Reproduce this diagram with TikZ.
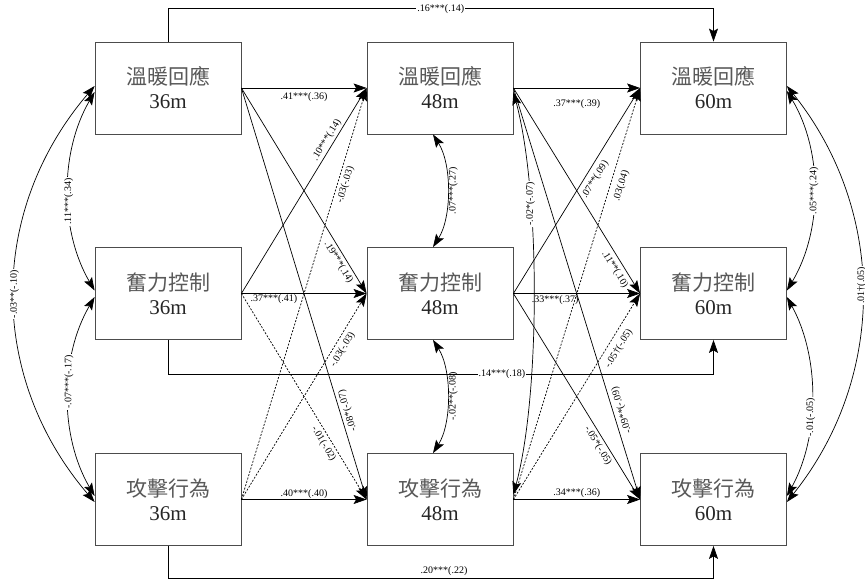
\documentclass[tikz,border=0pt]{standalone}
\usepackage{fontspec}
\setmainfont{Liberation Serif}
\newfontfamily\cjkfont{Noto Sans CJK TC}
\usetikzlibrary{arrows.meta,calc}
\newcommand{\zh}[1]{{\cjkfont\color{black!65}#1}}
\begin{document}
\begin{tikzpicture}[x=1pt,y=-1pt,
  >={Stealth[length=13pt,width=9pt,inset=2.5pt]},
  box/.style={draw=black!70, line width=0.8pt, minimum width=146pt, minimum height=92pt,
    align=center, inner sep=0pt, font=\fontsize{21}{24}\selectfont, text=black!85},
  pathline/.style={->, line width=0.7pt},
  dotpath/.style={pathline, dash pattern=on 2pt off 1.5pt},
  cov/.style={<->, line width=0.7pt},
  lbl/.style={font=\fontsize{10}{12}\selectfont, inner sep=1pt},
  lblw/.style={lbl, fill=white}]
\useasboundingbox (0,0) rectangle (865,580);
\fill[white] (0,0) rectangle (865,580);

% boxes
\node[box] (c1r1) at (168,88) {\zh{溫暖回應}\\36m};
\node[box] (c2r1) at (440,88) {\zh{溫暖回應}\\48m};
\node[box] (c3r1) at (713.5,88) {\zh{溫暖回應}\\60m};
\node[box] (c1r2) at (168,293.5) {\zh{奮力控制}\\36m};
\node[box] (c2r2) at (440,293.5) {\zh{奮力控制}\\48m};
\node[box] (c3r2) at (713.5,293.5) {\zh{奮力控制}\\60m};
\node[box] (c1r3) at (168,499.5) {\zh{攻擊行為}\\36m};
\node[box] (c2r3) at (440,499.5) {\zh{攻擊行為}\\48m};
\node[box] (c3r3) at (713.5,499.5) {\zh{攻擊行為}\\60m};

% 36m -> 48m
\draw[pathline] (c1r1.east) -- node[lbl,below=3pt]{.41***(.36)} (c2r1.west);
\draw[pathline] (c1r1.east) -- node[lbl,sloped,pos=0.83,below=2pt]{.19***(.14)} (c2r2.west);
\draw[pathline] (c1r1.east) -- node[lbl,pos=0.79,rotate=107,below=2pt]{-.08*(-.07)} (c2r3.west);
\draw[pathline] (c1r2.east) -- node[lbl,pos=0.26,below=0pt]{.37***(.41)} (c2r2.west);
\draw[pathline] (c1r2.east) -- node[lbl,sloped,pos=0.73,above=1pt]{.10***(.14)} (c2r1.west);
\draw[dotpath] (c1r2.east) -- node[lbl,sloped,pos=0.71,below=2pt]{-.01(-.02)} (c2r3.west);
\draw[pathline] (c1r3.east) -- node[lbl,above=0pt]{.40***(.40)} (c2r3.west);
\draw[dotpath] (c1r3.east) -- node[lbl,sloped,pos=0.77,below=2pt]{-.03(-.03)} (c2r1.west);
\draw[dotpath] (c1r3.east) -- node[lbl,sloped,pos=0.75,below=3pt]{-.03(-.03)} (c2r2.west);

% 48m -> 60m
\draw[pathline] (c2r1.east) -- node[lbl,below=10pt]{.37***(.39)} (c3r1.west);
\draw[pathline] (c2r1.east) -- node[lbl,sloped,pos=0.86,below=3pt]{.11**(.10)} (c3r2.west);
\draw[pathline] (c2r1.east) -- node[lbl,pos=0.79,rotate=107,below=3pt]{-.09**(-.09)} (c3r3.west);
\draw[pathline] (c2r2.east) -- node[lbl,pos=0.33,below=1pt]{.33***(.37)} (c3r2.west);
\draw[pathline] (c2r2.east) -- node[lbl,sloped,pos=0.58,below=4pt]{.07**(.09)} (c3r1.west);
\draw[pathline] (c2r2.east) -- node[lbl,sloped,pos=0.72,below=2pt]{-.05*(-.05)} (c3r3.west);
\draw[pathline] (c2r3.east) -- node[lbl,above=1pt]{.34***(.36)} (c3r3.west);
\draw[dotpath] (c2r3.east) -- node[lbl,sloped,pos=0.77,below=5pt]{.03(.04)} (c3r1.west);
\draw[dotpath] (c2r3.east) -- node[lbl,sloped,pos=0.76,below=5pt]{-.05†(-.05)} (c3r2.west);

% lag-2 paths
\draw[pathline] (c1r1.north) -- ++(0,-33) -| node[lblw,pos=0.25]{.16***(.14)} (c3r1.north);
\draw[pathline] (c1r2.south) -- ++(0,34) -| node[lblw,pos=0.306]{.14***(.18)} (c3r2.south);
\draw[pathline] (c1r3.south) -- ++(0,32) -| node[lbl,pos=0.253,above=1pt]{.20***(.22)} (c3r3.south);

% covariances 36m
\draw[cov] ([yshift=2pt]c1r1.west) .. controls +(-107,125) and +(-107,-125) .. ([yshift=-2.5pt]c1r3.west)
  node[lblw,pos=0.5,rotate=90]{-.03**(-.10)};
\draw[cov] ([yshift=-4pt]c1r1.west) .. controls +(-35,60) and +(-35,-60) .. ([yshift=3pt]c1r2.west)
  node[lblw,pos=0.55,rotate=90]{.11***(.34)};
\draw[cov] ([yshift=-3.5pt]c1r2.west) .. controls +(-35,60) and +(-35,-60) .. ([yshift=3.5pt]c1r3.west)
  node[lblw,pos=0.43,rotate=90]{-.07***(-.17)};

% residual covariances 48m
\draw[cov] ([xshift=-7pt]c2r1.south) .. controls +(19,30) and +(19,-30) .. ([xshift=-7pt]c2r2.north)
  node[lbl,pos=0.5,rotate=90,anchor=north]{.07***(.27)};
\draw[cov] ([xshift=-7pt]c2r2.south) .. controls +(19,30) and +(19,-30) .. ([xshift=-7pt]c2r3.north)
  node[lbl,pos=0.5,rotate=90,anchor=north]{-.02**(-.08)};
\draw[cov] ([yshift=-4pt]c2r1.east) .. controls +(27,100) and +(27,-100) .. ([yshift=5pt]c2r3.east)
  node[lblw,pos=0.3,rotate=90]{-.02*(-.07)};

% residual covariances 60m
\draw[cov] ([yshift=-3pt]c3r1.east) .. controls +(36,60) and +(36,-60) .. ([yshift=3pt]c3r2.east)
  node[lblw,pos=0.5,rotate=90]{.05***(.24)};
\draw[cov] ([yshift=-3.5pt]c3r2.east) .. controls +(33,60) and +(33,-60) .. ([yshift=3.5pt]c3r3.east)
  node[lblw,pos=0.6,rotate=90]{-.01(-.05)};
\draw[cov] ([yshift=2pt]c3r1.east) .. controls +(100,125) and +(100,-125) .. ([yshift=-2.5pt]c3r3.east)
  node[lblw,pos=0.48,rotate=90]{.01†(.05)};
\end{tikzpicture}
\end{document}
